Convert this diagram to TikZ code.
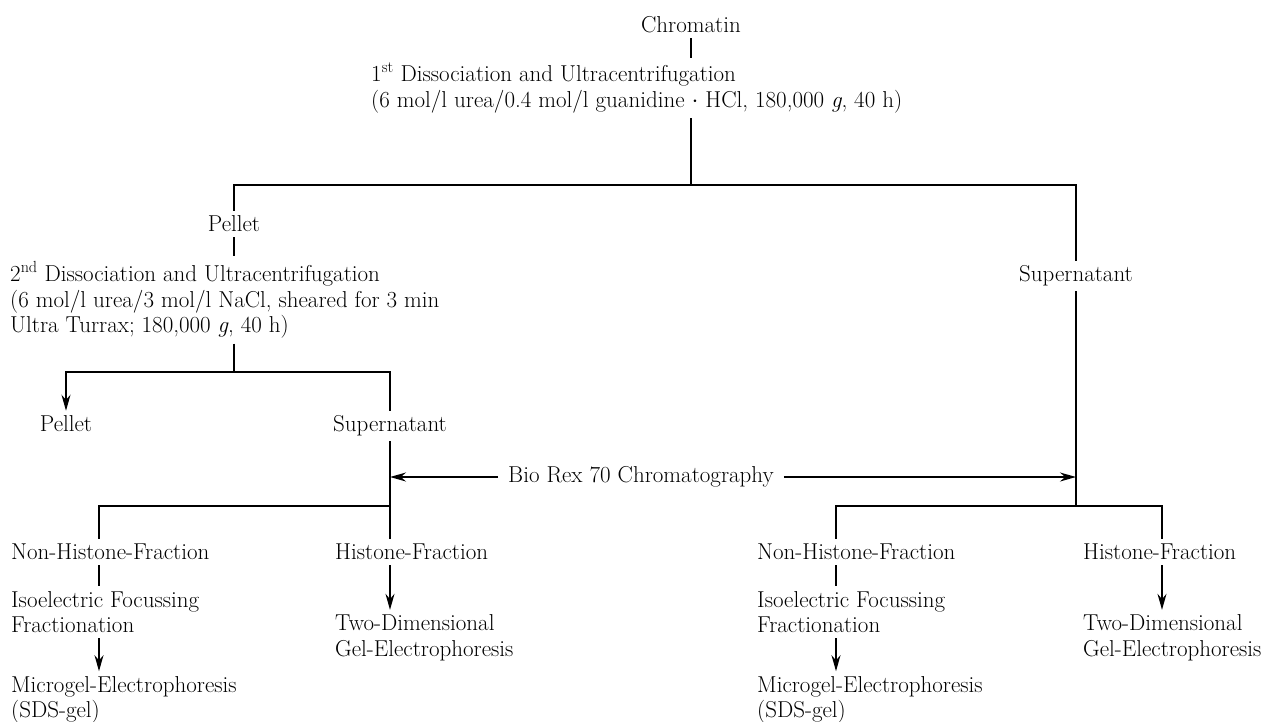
\documentclass[tikz,border=0pt]{standalone}
\usepackage{tikz}
\usetikzlibrary{arrows.meta}
\begin{document}
\begin{tikzpicture}[x=1pt,y=-1pt,
    every node/.style={font=\fontsize{23}{25.5}\selectfont, inner xsep=0pt, inner ysep=5pt},
    lbl/.style={anchor=west, align=left},
    link/.style={line width=1.5pt},
    arr/.style={line width=1.5pt, -{Stealth[length=16pt,width=9pt]}},
    rarr/.style={line width=1.5pt, {Stealth[length=16pt,width=9pt]}-}]
        \useasboundingbox (0,0) rectangle (1270,721);
        \node (chrom) at (691,25) {Chromatin};
        \node[lbl] (diss1) at (371,88) {1\textsuperscript{st} Dissociation and Ultracentrifugation\\(6 mol/l urea/0.4 mol/l guanidine $\cdot$ HCl, 180,000 \textit{g}, 40 h)};
        \node (pellet1) at (234,224) {Pellet};
        \node (super1) at (1076,276) {Supernatant};
        \node[lbl] (diss2) at (10,300) {2\textsuperscript{nd} Dissociation and Ultracentrifugation\\(6 mol/l urea/3 mol/l NaCl, sheared for 3 min\\Ultra Turrax; 180,000 \textit{g}, 40 h)};
        \node (pellet2) at (66,424) {Pellet};
        \node (super2) at (390,426) {Supernatant};
        \node[inner xsep=10pt] (bio) at (641,477) {Bio Rex 70 Chromatography};
        \node[lbl] (nh1) at (11,552) {Non-Histone-Fraction};
        \node[lbl] (iso1) at (11,612) {Isoelectric Focussing\\Fractionation};
        \node[lbl] (micro1) at (11,700) {Microgel-Electrophoresis\\(SDS-gel)};
        \node[lbl] (h1) at (335,552) {Histone-Fraction};
        \node[lbl] (two1) at (335,638) {Two-Dimensional\\Gel-Electrophoresis};
        \node[lbl] (nh2) at (757,552) {Non-Histone-Fraction};
        \node[lbl] (iso2) at (757,612) {Isoelectric Focussing\\Fractionation};
        \node[lbl] (micro2) at (757,700) {Microgel-Electrophoresis\\(SDS-gel)};
        \node[lbl] (h2) at (1083,552) {Histone-Fraction};
        \node[lbl] (two2) at (1083,638) {Two-Dimensional\\Gel-Electrophoresis};
        \coordinate (j1) at (691,185);
        \coordinate (j2) at (234,372);
        \coordinate (j3) at (390,506);
        \coordinate (j4) at (1076,506);
        \coordinate (b1) at (99,506);
        \coordinate (b2) at (836,506);
        \coordinate (b3) at (1162,506);
        \draw[link] (chrom.south) -- (diss1.north -| chrom);
        \draw[link] (diss1.south -| chrom) -- (j1);
        \draw[link] (pellet1.north) |- (j1) -| (super1.north);
        \draw[link] (pellet1.south) -- (diss2.north -| pellet1);
        \draw[link] (diss2.south -| pellet1) -- (j2);
        \draw[rarr] (pellet2.north) |- (j2) -| (super2.north);
        \draw[link] (super2.south) -- (h1.north -| super2);
        \draw[link] (super1.south) -- (j4);
        \draw[arr] (bio.west) -- (bio.west -| super2);
        \draw[arr] (bio.east) -- (bio.east -| super1);
        \draw[link] (nh1.north -| b1) |- (j3);
        \draw[link] (nh1.south -| b1) -- (iso1.north -| b1);
        \draw[arr] (iso1.south -| b1) -- (micro1.north -| b1);
        \draw[arr] (h1.south -| j3) -- (two1.north -| j3);
        \draw[link] (nh2.north -| b2) |- (j4) -| (h2.north -| b3);
        \draw[link] (nh2.south -| b2) -- (iso2.north -| b2);
        \draw[arr] (iso2.south -| b2) -- (micro2.north -| b2);
        \draw[arr] (h2.south -| b3) -- (two2.north -| b3);
    \end{tikzpicture}
\end{document}
